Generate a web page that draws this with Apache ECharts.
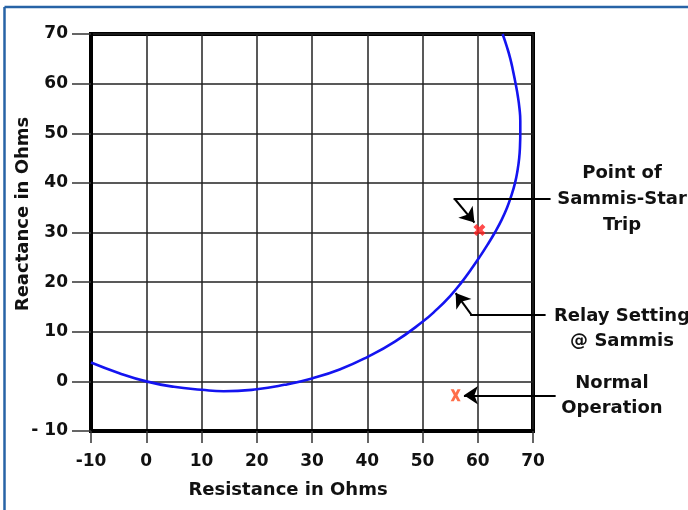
<!DOCTYPE html>
<html>
<head>
<meta charset="utf-8">
<script src="https://cdn.jsdelivr.net/npm/echarts@6/dist/echarts.min.js"></script>
<style>
html,body{margin:0;padding:0;background:#fff;}
#chart{width:688px;height:510px;}
</style>
</head>
<body>
<div id="chart"></div>
<script>
// ---- data ----
const xTickLabels = ['-10', '0', '10', '20', '30', '40', '50', '60', '70'];
const yTickLabels = ['- 10', '0', '10', '20', '30', '40', '50', '60', '70'];
// Relay (mho) characteristic: resistance / reactance pairs
const relayR = [-10, -5, 0, 5, 10, 14, 20, 25, 30, 35, 40, 45, 50, 52.5, 55, 57.1, 58.75, 60.3, 61.75, 63.1, 64.3, 65.3, 66.1, 66.75, 67.2, 67.5, 67.65, 67.7, 67.7, 67.55, 67.25, 66.85, 66.4, 65.9, 65.25, 64.5];
const relayX = [3.8, 1.7, 0, -1.1, -1.7, -2.0, -1.6, -0.7, 0.6, 2.4, 4.9, 8.0, 12.0, 14.4, 17.2, 20, 22.5, 25, 27.5, 30, 32.5, 35, 37.5, 40, 42.5, 45, 47.5, 50, 52.5, 55, 57.5, 60, 62.5, 65, 67.5, 70];
// Point of Sammis-Star trip
const tripPoint = [60.3, 30.5];
// Normal operation
const normalPoint = [56.0, -2.8];
// annotation arrows (data coordinates): leader segments and arrow-headed segments
const leaderTrip = [[73.0, 36.8], [55.8, 36.8]];
const headTrip = [[55.8, 36.8], [59.4, 32.0]];
const leaderRelay = [[72.1, 13.5], [58.8, 13.5]];
const headRelay = [[58.8, 13.5], [56.0, 17.8]];
const headNormal = [[74.1, -2.8], [57.5, -2.8]];
const labelTrip = 'Point of\nSammis-Star\nTrip';
const labelRelay = 'Relay Setting\n@ Sammis';
const labelNormal = 'Normal\nOperation';

const FONT = '"DejaVu Sans", Arial, sans-serif';
const chart = echarts.init(document.getElementById('chart'), null, {renderer: 'canvas'});

const relayData = relayR.map((r, i) => [r, relayX[i]]);

function idx(v){ return Math.round((v + 10) / 10); }

const option = {
  animation: false,
  backgroundColor: '#ffffff',
  grid: {
    left: 91, top: 34, right: 155, bottom: 79, containLabel: false, outerBoundsMode: 'none',
    show: true, borderColor: '#000', borderWidth: 4, backgroundColor: 'transparent'
  },
  xAxis: {
    type: 'value', min: -10, max: 70, interval: 10,
    name: 'Resistance in Ohms', nameLocation: 'middle', nameGap: 50, nameMoveOverlap: false,
    nameTextStyle: {fontFamily: FONT, fontWeight: 'bold', fontSize: 18, color: '#111', padding: [0, 48, 0, 0]},
    axisLine: {show: true, onZero: false, lineStyle: {color: '#000', width: 4}},
    axisTick: {show: true, length: 12, lineStyle: {color: '#333', width: 1.5}},
    axisLabel: {margin: 22, fontFamily: FONT, fontWeight: 'bold', fontSize: 17, color: '#111',
      formatter: v => xTickLabels[idx(v)]},
    splitLine: {show: true, lineStyle: {color: '#222', width: 1.5}}
  },
  yAxis: {
    type: 'value', min: -10, max: 70, interval: 10,
    name: 'Reactance in Ohms', nameLocation: 'middle', nameGap: 59, nameRotate: 90, nameMoveOverlap: false,
    nameTextStyle: {fontFamily: FONT, fontWeight: 'bold', fontSize: 18, color: '#111', padding: [0, 0, 0, 37]},
    axisLine: {show: true, onZero: false, lineStyle: {color: '#000', width: 4}},
    axisTick: {show: true, length: 19, lineStyle: {color: '#333', width: 1.5}},
    axisLabel: {margin: 23, fontFamily: FONT, fontWeight: 'bold', fontSize: 17, color: '#111',
      formatter: v => yTickLabels[idx(v)]},
    splitLine: {show: true, lineStyle: {color: '#222', width: 1.5}}
  },
  series: [
    {
      type: 'line', name: 'Relay Setting', data: relayData, smooth: 0.5, clip: true,
      showSymbol: false, symbol: 'none',
      lineStyle: {color: '#1414f0', width: 2.6}, z: 5
    },
    {
      type: 'scatter', name: 'Sammis-Star Trip', data: [tripPoint],
      symbol: 'path://M0,2.5 L2.5,0 L5,2.5 L7.5,0 L10,2.5 L7.5,5 L10,7.5 L7.5,10 L5,7.5 L2.5,10 L0,7.5 L2.5,5 Z',
      symbolSize: 12, itemStyle: {color: '#ff1e1e'}, z: 6
    },
    {
      type: 'scatter', name: 'Normal Operation', data: [normalPoint],
      symbol: 'path://M0,0 L3.2,0 L5,3.6 L6.8,0 L10,0 L6.8,6 L10,12 L6.8,12 L5,8.4 L3.2,12 L0,12 L3.2,6 Z',
      symbolSize: [10, 12], itemStyle: {color: '#ff4a1c'}, z: 6
    },
    {
      type: 'lines', coordinateSystem: 'cartesian2d', clip: false,
      symbol: ['none', 'none'],
      lineStyle: {color: '#000', width: 2, opacity: 1, cap: 'square'},
      data: [{coords: leaderTrip}, {coords: leaderRelay}],
      z: 7, silent: true
    },
    {
      type: 'lines', coordinateSystem: 'cartesian2d', clip: false,
      symbol: ['none', 'arrow'], symbolSize: [9, 14],
      lineStyle: {color: '#000', width: 2, opacity: 1},
      data: [{coords: headTrip}, {coords: headRelay}, {coords: headNormal}],
      z: 7, silent: true
    }
  ],
  graphic: [
    {type: 'line', shape: {x1: 4.5, y1: 7, x2: 688, y2: 7}, style: {stroke: '#2763a6', lineWidth: 2.5}},
    {type: 'line', shape: {x1: 4.5, y1: 7, x2: 4.5, y2: 510}, style: {stroke: '#2763a6', lineWidth: 2.5}},
    {type: 'text', x: 622, y: 199, style: {text: labelTrip, fill: '#111', font: 'bold 18px ' + FONT,
      textAlign: 'center', textVerticalAlign: 'middle', lineHeight: 26}},
    {type: 'text', x: 622, y: 329, style: {text: labelRelay, fill: '#111', font: 'bold 18px ' + FONT,
      textAlign: 'center', textVerticalAlign: 'middle', lineHeight: 25}},
    {type: 'text', x: 612, y: 395.5, style: {text: labelNormal, fill: '#111', font: 'bold 18px ' + FONT,
      textAlign: 'center', textVerticalAlign: 'middle', lineHeight: 25}}
  ]
};
chart.setOption(option);
</script>
</body>
</html>
